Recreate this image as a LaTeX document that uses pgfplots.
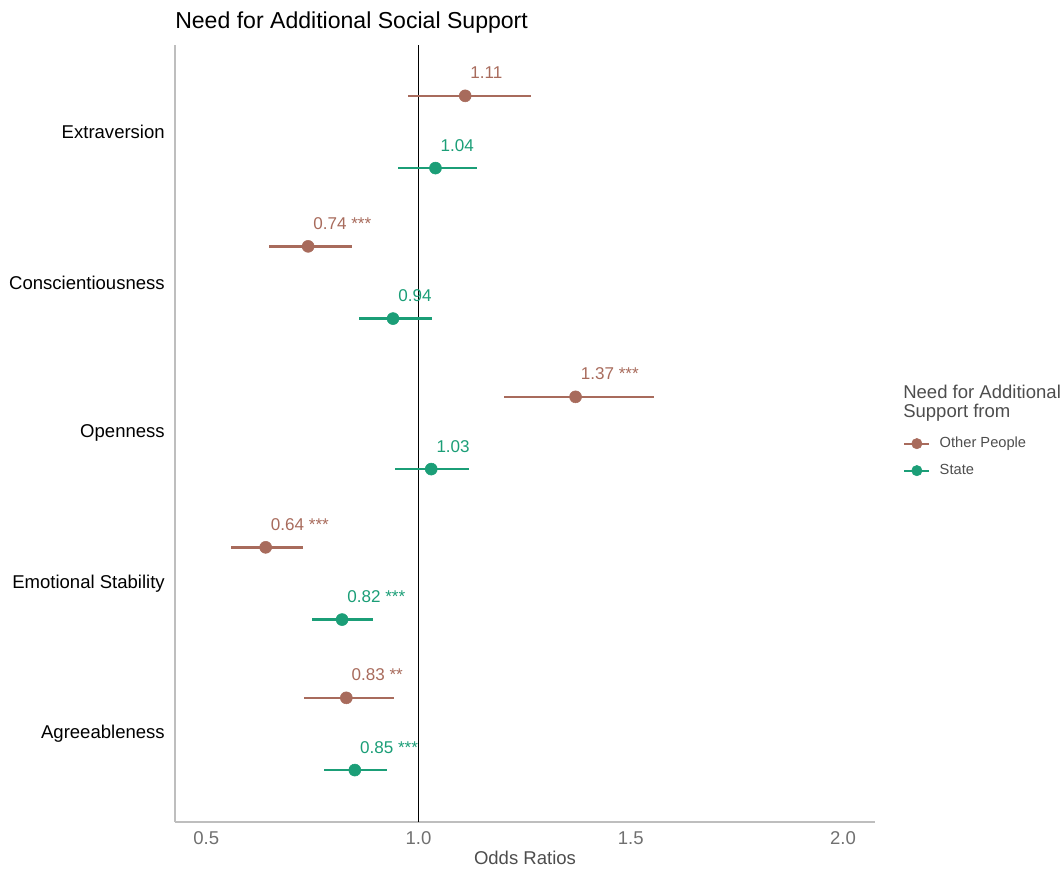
\documentclass[border=0pt]{standalone}
\usepackage{fontspec}
\setmainfont{Liberation Sans}
\usepackage{pgfplots}
\usepackage{pgfplotstable}
\pgfplotsset{compat=1.18}

\definecolor{otherc}{HTML}{A86B5C}
\definecolor{statec}{HTML}{1B9E77}
\definecolor{axisgray}{HTML}{BEBEBE}
\definecolor{ticktext}{HTML}{707070}
\definecolor{labeltext}{HTML}{4D4D4D}

% y: 5 = Extraversion ... 1 = Agreeableness; groups dodged by +-0.24
\pgfplotstableread[col sep=comma]{
y,x,lo,hi,lab
5.24,1.11,0.976,1.264,1.11
4.24,0.74,0.649,0.843,0.74 ***
3.24,1.37,1.202,1.555,1.37 ***
2.24,0.64,0.558,0.727,0.64 ***
1.24,0.83,0.731,0.943,0.83 **
}\otherdata

\pgfplotstableread[col sep=comma]{
y,x,lo,hi,lab
4.76,1.04,0.952,1.137,1.04
3.76,0.94,0.860,1.031,0.94
2.76,1.03,0.945,1.119,1.03
1.76,0.82,0.748,0.892,0.82 ***
0.76,0.85,0.777,0.925,0.85 ***
}\statedata

\begin{document}
\begin{tikzpicture}
\path[use as bounding box] (0,0) rectangle (796.5pt,652.5pt);
\begin{axis}[
  at={(131.25pt,36pt)}, anchor=south west,
  width=525pt, height=582.75pt, scale only axis,
  xmin=0.4264, xmax=2.0754,
  ymin=0.415, ymax=5.578,
  clip=false,
  axis x line*=bottom, axis y line*=left,
  axis line style={draw=axisgray, line width=1pt, -},
  major tick length=0pt,
  tick style={draw=none},
  xtick={0.5,1,1.5,2},
  xticklabels={0.5,1.0,1.5,2.0},
  ytick={1,2,3,4,5},
  yticklabels={Agreeableness,Emotional Stability,Openness,Conscientiousness,Extraversion},
  xticklabel style={font=\fontsize{13.9}{16}\selectfont, text=ticktext, inner sep=0pt, anchor=north, yshift=-7pt},
  yticklabel style={font=\fontsize{13.9}{16}\selectfont, text=black, inner sep=0pt, anchor=east, xshift=-7.5pt},
  xlabel={Odds Ratios},
  xlabel style={font=\fontsize{13.9}{16}\selectfont, text=labeltext, at={(axis description cs:0.5,-0.0548)}, anchor=base},
  legend style={at={(axis description cs:1.04,0.498)}, anchor=north west, draw=none, fill=none,
    font=\fontsize{11}{13}\selectfont, text=labeltext, inner sep=0pt,
    row sep=7.75pt,
    nodes={inner sep=1pt, text height=8pt, text depth=2.5pt},
    /tikz/every odd column/.append style={column sep=6pt}},
  legend cell align=left,
  nodes near coords,
  point meta=explicit symbolic,
  nodes near coords style={anchor=base west, xshift=3.75pt, yshift=12.75pt,
    font=\fontsize{12.8}{15}\selectfont, inner sep=0pt},
]
% reference line at odds ratio 1
\draw[black, line width=0.75pt] (axis cs:1,0.415) -- (axis cs:1,5.578);

\addplot[only marks, mark=*, mark size=4.5pt, color=otherc,
  nodes near coords style={text=otherc},
  legend image code/.code={
    \draw[otherc, line width=1.6pt] (0pt,0pt) -- (18.75pt,0pt);
    \fill[otherc] (9.4pt,0pt) circle (3.9pt);},
  error bars/.cd, x dir=both, x explicit, error mark=none,
  error bar style={line width=1.9pt, color=otherc}]
  table[x=x, y=y, meta=lab,
        x error plus expr=\thisrow{hi}-\thisrow{x},
        x error minus expr=\thisrow{x}-\thisrow{lo}] {\otherdata};
\addlegendentry{Other People}
\addplot[only marks, mark=*, mark size=4.5pt, color=statec,
  nodes near coords style={text=statec},
  legend image code/.code={
    \draw[statec, line width=1.6pt] (0pt,0pt) -- (18.75pt,0pt);
    \fill[statec] (9.4pt,0pt) circle (3.9pt);},
  error bars/.cd, x dir=both, x explicit, error mark=none,
  error bar style={line width=1.9pt, color=statec}]
  table[x=x, y=y, meta=lab,
        x error plus expr=\thisrow{hi}-\thisrow{x},
        x error minus expr=\thisrow{x}-\thisrow{lo}] {\statedata};
\addlegendentry{State}

% title and legend heading
\node[anchor=base west, inner sep=0pt, font=\fontsize{17.3}{20}\selectfont, text=black]
  at (axis description cs:0,1.0216) {Need for Additional Social Support};
\node[anchor=base west, inner sep=0pt, font=\fontsize{13.9}{16}\selectfont, text=labeltext]
  at (axis description cs:1.04,0.545) {Need for Additional};
\node[anchor=base west, inner sep=0pt, font=\fontsize{13.9}{16}\selectfont, text=labeltext]
  at (axis description cs:1.04,0.5205) {Support from};
\end{axis}
\end{tikzpicture}
\end{document}
